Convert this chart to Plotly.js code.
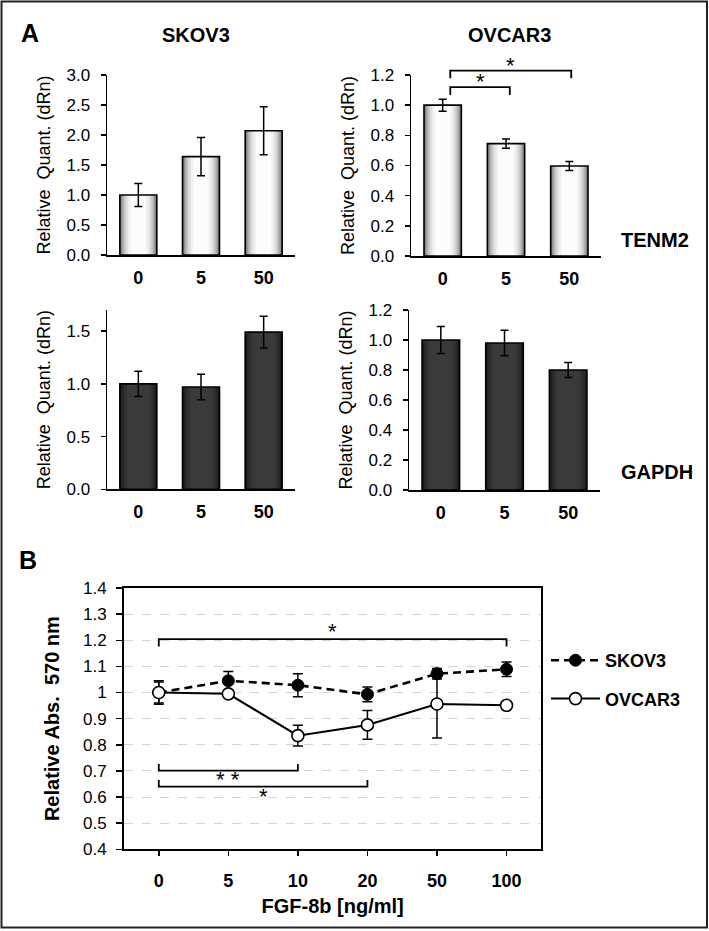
<!DOCTYPE html>
<html>
<head>
<meta charset="utf-8">
<script src="https://cdn.plot.ly/plotly-3.0.1.min.js"></script>
<style>html,body{margin:0;padding:0;background:#fff;}</style>
</head>
<body>
<div id="chart" style="width:709px;height:931px;"></div>
<script>
// ---------------- DATA ----------------
const barDoses = ['0', '5', '50'];
const tenm2Skov3 = [1.00, 1.64, 2.07];
const tenm2Skov3Err = [0.19, 0.32, 0.40];
const tenm2Ovcar3 = [1.00, 0.745, 0.597];
const tenm2Ovcar3Err = [0.04, 0.03, 0.03];
const gapdhSkov3 = [1.00, 0.97, 1.49];
const gapdhSkov3Err = [0.12, 0.12, 0.15];
const gapdhOvcar3 = [1.00, 0.98, 0.80];
const gapdhOvcar3Err = [0.09, 0.085, 0.05];

const fgfDoses = ['0', '5', '10', '20', '50', '100'];
const skov3Abs = [1.00, 1.045, 1.028, 0.993, 1.072, 1.089];
const skov3AbsErr = [0.04, 0.035, 0.044, 0.028, 0.02, 0.028];
const ovcar3Abs = [1.00, 0.995, 0.835, 0.876, 0.956, 0.951];
const ovcar3AbsErr = [0.045, 0.01, 0.04, 0.055, 0.13, 0.008];

// significance brackets (TENM2 / OVCAR3), x in bar-index units
const tenm2BracketFrom = [0.12, 0.12];
const tenm2BracketTo = [1.06, 2.03];
const tenm2BracketLevel = [1.119, 1.229];
const tenm2BracketTip = [1.068, 1.178];
const tenm2BracketLabel = ['*', '*'];

// significance brackets (proliferation), x in dose categories
const absBracketFrom = ['0', '0', '0'];
const absBracketTo = ['100', '10', '20'];
const absBracketLevel = [1.204, 0.701, 0.640];
const absBracketTip = [1.176, 0.726, 0.665];
const absBracketLabelX = [2.5, 1.0, 1.5];
const absBracketLabelY = [1.232, 0.666, 0.603];
const absBracketLabel = ['*', '* *', '*'];

// ---------------- LAYOUT HELPERS ----------------
const W = 709, H = 931;
const FONT = 'Liberation Sans, Arial, sans-serif';
const px = v => v / W;
const py = v => 1 - v / H;

const traces = [];
const BAR_W = 0.59;
const lightLayers = [[1.00, '#767676'], [0.93, '#939393'], [0.86, '#b0b0b0'], [0.78, '#c9c9c9'], [0.68, '#dfdfdf'], [0.56, '#f0f0f0'], [0.42, '#fcfcfc']];
const darkLayers = [[1.00, '#1a1a1a'], [0.90, '#272727'], [0.78, '#323232'], [0.62, '#3a3a3a']];

function addBars(xa, ya, vals, errs, layers) {
  layers.forEach(([f, c]) => {
    traces.push({type: 'bar', x: barDoses, y: vals, xaxis: xa, yaxis: ya, width: BAR_W * f,
      marker: {color: c, line: {width: 0}}, showlegend: false, hoverinfo: 'skip'});
  });
  traces.push({type: 'bar', x: barDoses, y: vals, xaxis: xa, yaxis: ya, width: BAR_W,
    marker: {color: 'rgba(0,0,0,0)', line: {width: 1.6, color: '#000'}},
    error_y: {type: 'data', array: errs, visible: true, color: '#000', thickness: 1.5, width: 4},
    showlegend: false, hoverinfo: 'skip'});
}
addBars('x', 'y', tenm2Skov3, tenm2Skov3Err, lightLayers);
addBars('x2', 'y2', tenm2Ovcar3, tenm2Ovcar3Err, lightLayers);
addBars('x3', 'y3', gapdhSkov3, gapdhSkov3Err, darkLayers);
addBars('x4', 'y4', gapdhOvcar3, gapdhOvcar3Err, darkLayers);

// Panel B series
traces.push({type: 'scatter', mode: 'lines+markers', name: 'SKOV3', x: fgfDoses, y: skov3Abs,
  xaxis: 'x5', yaxis: 'y5', legendgroup: 'a',
  line: {color: '#000', width: 2.6, dash: '8px,5px'},
  marker: {symbol: 'circle', size: 12, color: '#000', line: {color: '#000', width: 1}},
  error_y: {type: 'data', array: skov3AbsErr, visible: true, color: '#000', thickness: 1.5, width: 5}});
traces.push({type: 'scatter', mode: 'lines+markers', name: 'OVCAR3', x: fgfDoses, y: ovcar3Abs,
  xaxis: 'x5', yaxis: 'y5', legendgroup: 'b',
  line: {color: '#000', width: 2},
  marker: {symbol: 'circle', size: 12, color: '#fff', line: {color: '#000', width: 1.6}},
  error_y: {type: 'data', array: ovcar3AbsErr, visible: true, color: '#000', thickness: 1.5, width: 5}});

// TENM2 OVCAR3 brackets on an overlay (invisible) axis pair with identical scale
tenm2BracketFrom.forEach((f, i) => {
  traces.push({type: 'scatter', mode: 'lines', xaxis: 'x6', yaxis: 'y6',
    x: [f, f, tenm2BracketTo[i], tenm2BracketTo[i]],
    y: [tenm2BracketTip[i], tenm2BracketLevel[i], tenm2BracketLevel[i], tenm2BracketTip[i]],
    line: {color: '#000', width: 1.8}, showlegend: false, hoverinfo: 'skip'});
});

// Panel B brackets
absBracketFrom.forEach((f, i) => {
  traces.push({type: 'scatter', mode: 'lines', xaxis: 'x5', yaxis: 'y5',
    x: [f, f, absBracketTo[i], absBracketTo[i]],
    y: [absBracketTip[i], absBracketLevel[i], absBracketLevel[i], absBracketTip[i]],
    line: {color: '#000', width: 1.8}, showlegend: false, hoverinfo: 'skip'});
});

const tickFont = {family: FONT, size: 17, color: '#000'};
const boldTick = {family: FONT, size: 18, color: '#000', weight: 'bold'};
const yTitleA = {text: 'Relative\u00a0 Quant. (dRn)', font: {family: FONT, size: 18, color: '#000'}, standoff: 11};

function barX(d0, d1) {
  return {domain: [px(d0), px(d1)], type: 'category', categoryorder: 'array', categoryarray: barDoses,
    range: [-0.5, 2.5], showline: true, linecolor: '#000',
    linewidth: 1.5, ticks: '', tickfont: boldTick, ticklabelstandoff: 6, showgrid: false, zeroline: false, fixedrange: true};
}
function barY(top, bottom, range, dtick, anchor) {
  return {domain: [py(bottom), py(top)], range: range, dtick: dtick, tick0: 0, tickformat: '.1f', showline: true,
    linecolor: '#000', linewidth: 1.5, ticks: 'outside', ticklen: 5, tickwidth: 1.5, tickcolor: '#000',
    tickfont: tickFont, ticklabelstandoff: 7, showgrid: false, zeroline: false, title: yTitleA, anchor: anchor};
}

const layout = {
  width: W, height: H, margin: {l: 0, r: 0, t: 0, b: 0}, paper_bgcolor: '#fff', plot_bgcolor: 'rgba(0,0,0,0)',
  barmode: 'overlay', font: {family: FONT, color: '#000'},
  xaxis: Object.assign(barX(107, 295), {anchor: 'y'}),
  yaxis: barY(75, 255, [0, 3], 0.5, 'x'),
  xaxis2: Object.assign(barX(411, 601), {anchor: 'y2'}),
  yaxis2: barY(75, 256, [0, 1.2], 0.2, 'x2'),
  xaxis3: Object.assign(barX(107, 295), {anchor: 'y3'}),
  yaxis3: barY(310, 489.3, [0, 1.7], 0.5, 'x3'),
  xaxis4: Object.assign(barX(409, 600), {anchor: 'y4'}),
  yaxis4: barY(310, 490, [0, 1.2], 0.2, 'x4'),
  xaxis5: {domain: [px(124), px(541.3)], anchor: 'y5', type: 'category', categoryorder: 'array', categoryarray: fgfDoses,
    range: [-0.5, 5.5], showline: true, mirror: true,
    linecolor: '#000', linewidth: 2, ticks: 'outside', ticklen: 5, tickwidth: 1.5, tickcolor: '#000',
    tickfont: boldTick, ticklabelstandoff: 9, showgrid: false, zeroline: false,
    title: {text: 'FGF-8b [ng/ml]', font: {family: FONT, size: 20, color: '#000', weight: 'bold'}, standoff: 9}},
  yaxis5: {domain: [py(849.3), py(588)], anchor: 'x5', range: [0.4, 1.4], dtick: 0.1, tick0: 0.4, showline: true, mirror: true,
    linecolor: '#000', linewidth: 2, ticks: 'outside', ticklen: 6, tickwidth: 1.5, tickcolor: '#000',
    tickfont: tickFont, ticklabelstandoff: 6, showgrid: true, gridcolor: '#d4d4d4', gridwidth: 1, griddash: 'dash', zeroline: false,
    title: {text: 'Relative Abs.\u00a0 570 nm', font: {family: FONT, size: 20, color: '#000', weight: 'bold'}, standoff: 18}},
  xaxis6: {domain: [px(411), px(601)], anchor: 'y6', range: [-0.5, 2.5], visible: false, fixedrange: true},
  yaxis6: {domain: [py(256), py(50)], anchor: 'x6', range: [0, 1.2 * (256 - 50) / (256 - 75)], visible: false, fixedrange: true},
  showlegend: true,
  legend: {x: px(546), y: py(642), xanchor: 'left', yanchor: 'top', bgcolor: 'rgba(0,0,0,0)', itemwidth: 49,
    tracegroupgap: 12, font: {family: FONT, size: 18, color: '#000', weight: 'bold'}},
  shapes: [{type: 'rect', xref: 'paper', yref: 'paper', x0: px(1.5), x1: px(707), y0: py(927.5), y1: py(1.5),
    line: {color: '#222', width: 2}}],
  annotations: []
};

function label(text, x, y, size) {
  layout.annotations.push({text: text, xref: 'paper', yref: 'paper', x: px(x), y: py(y), showarrow: false,
    xanchor: 'center', yanchor: 'middle', font: {family: FONT, size: size, color: '#000', weight: 'bold'}});
}
label('A', 30, 33, 25);
label('B', 28, 560, 25);
label('SKOV3', 196, 35, 20);
label('OVCAR3', 509, 35, 20);
label('TENM2', 655, 240, 20);
label('GAPDH', 657, 472, 20);

// stars
tenm2BracketLabel.forEach((t, i) => {
  layout.annotations.push({text: t, xref: 'x6', yref: 'y6', x: (tenm2BracketFrom[i] + tenm2BracketTo[i]) / 2,
    y: tenm2BracketLevel[i], yanchor: 'bottom', yshift: -9, showarrow: false, font: {family: FONT, size: 22, color: '#000'}});
});
absBracketLabel.forEach((t, i) => {
  layout.annotations.push({text: t, xref: 'x5', yref: 'y5', x: absBracketLabelX[i], y: absBracketLabelY[i],
    showarrow: false, font: {family: FONT, size: 22, color: '#000'}});
});

Plotly.newPlot('chart', traces, layout, {displayModeBar: false, staticPlot: true});
</script>
</body>
</html>
